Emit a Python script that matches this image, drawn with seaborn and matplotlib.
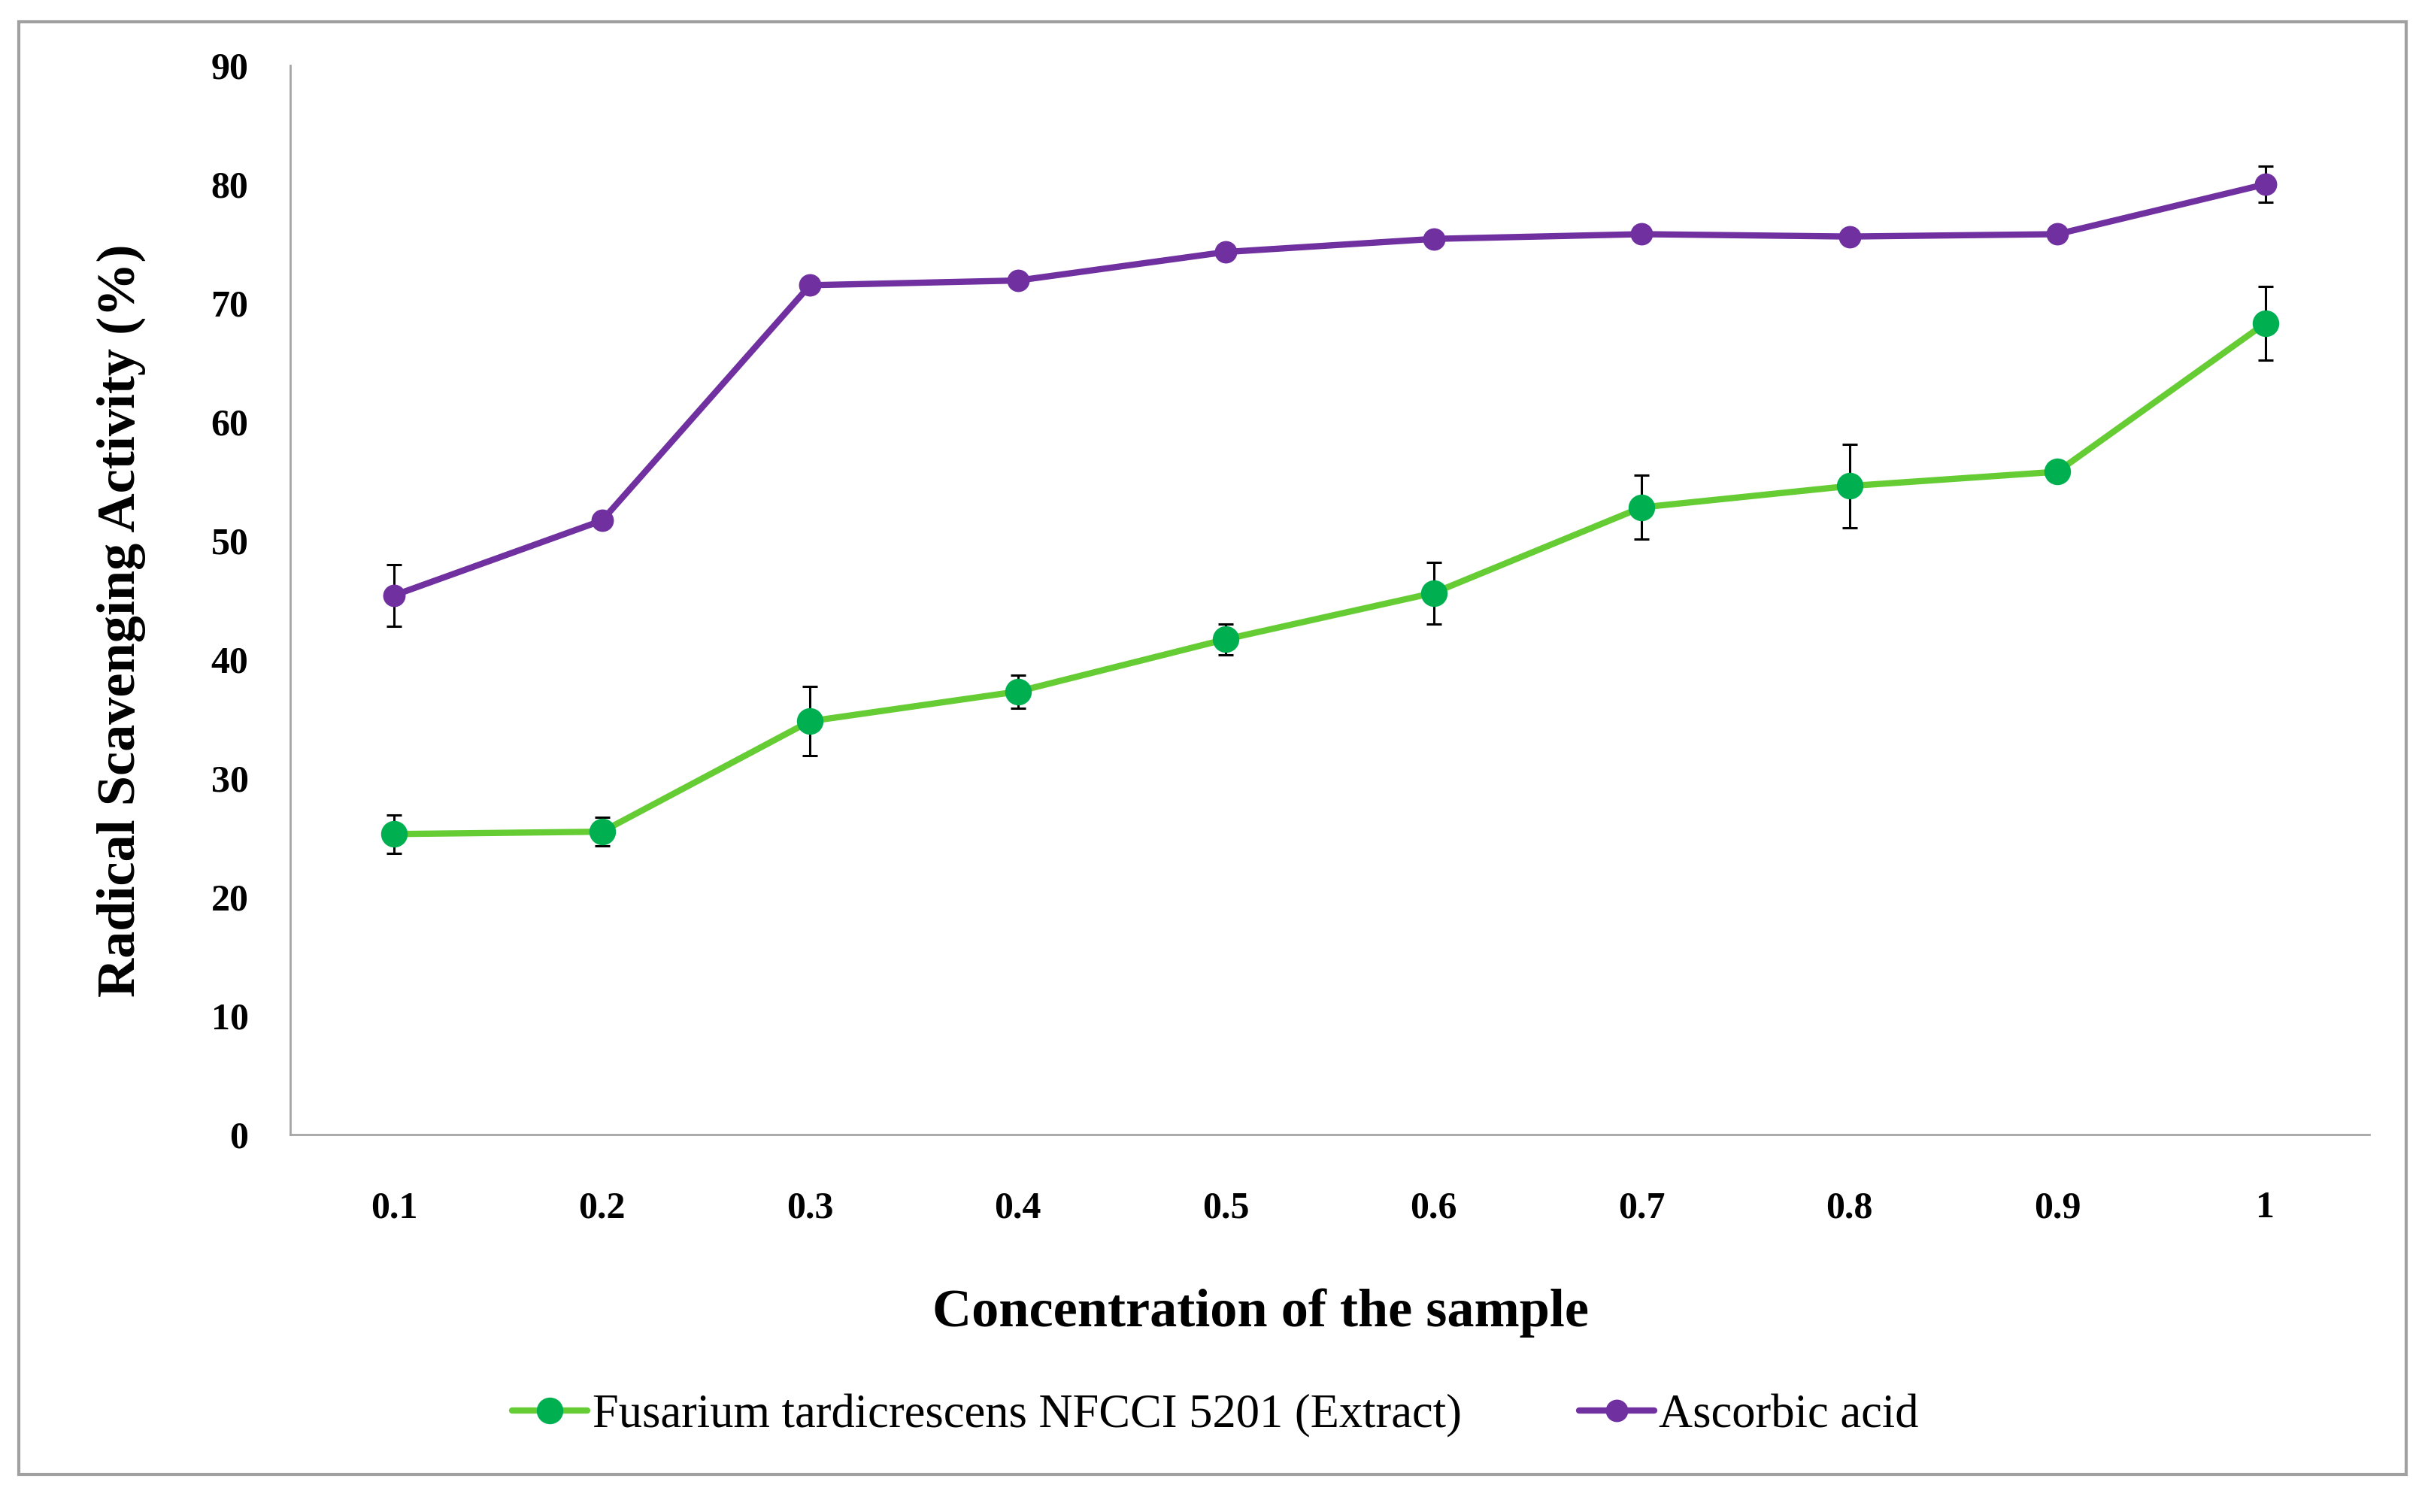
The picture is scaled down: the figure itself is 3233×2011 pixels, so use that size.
import matplotlib
matplotlib.use("Agg")
import matplotlib.pyplot as plt
import seaborn as sns
import pandas as pd
import numpy as np
from matplotlib.patches import Rectangle

concentrations = ["0.1", "0.2", "0.3", "0.4", "0.5", "0.6", "0.7", "0.8", "0.9", "1"]
fusarium_mean = [25.3, 25.5, 34.8, 37.3, 41.7, 45.6, 52.8, 54.6, 55.8, 68.3]
fusarium_err = [1.6, 1.2, 2.9, 1.4, 1.3, 2.6, 2.7, 3.5, 0.6, 3.1]
ascorbic_mean = [45.4, 51.7, 71.5, 71.9, 74.3, 75.4, 75.8, 75.6, 75.8, 80.0]
ascorbic_err = [2.6, 0.5, 0.5, 0.5, 0.5, 0.5, 0.5, 0.5, 0.5, 1.5]
series_names = ["Fusarium tardicrescens NFCCI 5201 (Extract)", "Ascorbic acid"]
y_ticks = [0, 10, 20, 30, 40, 50, 60, 70, 80, 90]

sns.set_theme(style="white")
plt.rcParams["font.family"] = ["Liberation Serif", "DejaVu Serif"]
plt.rcParams["text.color"] = "black"
plt.rcParams["xtick.color"] = "black"
plt.rcParams["ytick.color"] = "black"

fig = plt.figure(figsize=(3233 / 200, 2011 / 200), dpi=200)
ax = fig.add_axes([0.1194, 0.2496, 0.9746 - 0.1194, 0.9567 - 0.2496])

df_f = pd.DataFrame({"conc": concentrations, "val": fusarium_mean, "err": fusarium_err})
df_a = pd.DataFrame({"conc": concentrations, "val": ascorbic_mean, "err": ascorbic_err})

green_line = "#66CC33"
green_mark = "#00B050"
purple = "#7030A0"

ax.errorbar(df_f["conc"], df_f["val"], yerr=df_f["err"], fmt="none", ecolor="black",
            elinewidth=1.1, capsize=3.6, capthick=1.1, zorder=2)
ax.errorbar(df_a["conc"], df_a["val"], yerr=df_a["err"], fmt="none", ecolor="black",
            elinewidth=1.1, capsize=3.6, capthick=1.1, zorder=2)

sns.lineplot(data=df_f, x="conc", y="val", ax=ax, color=green_line, linewidth=3.0,
             marker="o", markersize=12, markerfacecolor=green_mark, markeredgecolor=green_mark,
             label=series_names[0], sort=False, zorder=3)
sns.lineplot(data=df_a, x="conc", y="val", ax=ax, color=purple, linewidth=3.0,
             marker="o", markersize=10, markerfacecolor=purple, markeredgecolor=purple,
             label=series_names[1], sort=False, zorder=3)

ax.set_xlim(-0.5, len(concentrations) - 0.5)
ax.set_ylim(0, 90)
ax.set_yticks(y_ticks)
ax.set_yticklabels([str(t) for t in y_ticks])
ax.tick_params(axis="y", length=0, pad=20, labelsize=18, labelcolor="black")
ax.tick_params(axis="x", length=0, pad=27, labelsize=18, labelcolor="black")
for lab in ax.get_xticklabels() + ax.get_yticklabels():
    lab.set_fontweight("bold")

for s in ["top", "right"]:
    ax.spines[s].set_visible(False)
for s in ["left", "bottom"]:
    ax.spines[s].set_color("#A6A6A6")
    ax.spines[s].set_linewidth(1.0)

ax.set_xlabel("")
ax.set_ylabel("")
fig.text(161 / 3233, 1 - 825 / 2011, "Radical Scavenging Activity (%)", rotation=90,
         ha="center", va="center", fontsize=26, fontweight="bold", color="black")
fig.text(0.5185, 1 - 1746 / 2011, "Concentration of the sample",
         ha="center", va="center", fontsize=26, fontweight="bold", color="black")

handles, labels = ax.get_legend_handles_labels()
ax.get_legend().remove()
fig.legend(handles, labels, loc="center", bbox_to_anchor=(0.5, 1 - 1883 / 2011), ncol=2,
           frameon=False, fontsize=22.5, handlelength=1.6, handletextpad=0.1, columnspacing=2.5,
           labelcolor="black")

fig.patches.append(Rectangle((25 / 3233, 1 - 1961 / 2011), (3200 - 25) / 3233, (1961 - 29) / 2011,
                             transform=fig.transFigure, fill=False, edgecolor="#A0A0A0", linewidth=1.5))

fig.savefig("out.png", dpi=200)
